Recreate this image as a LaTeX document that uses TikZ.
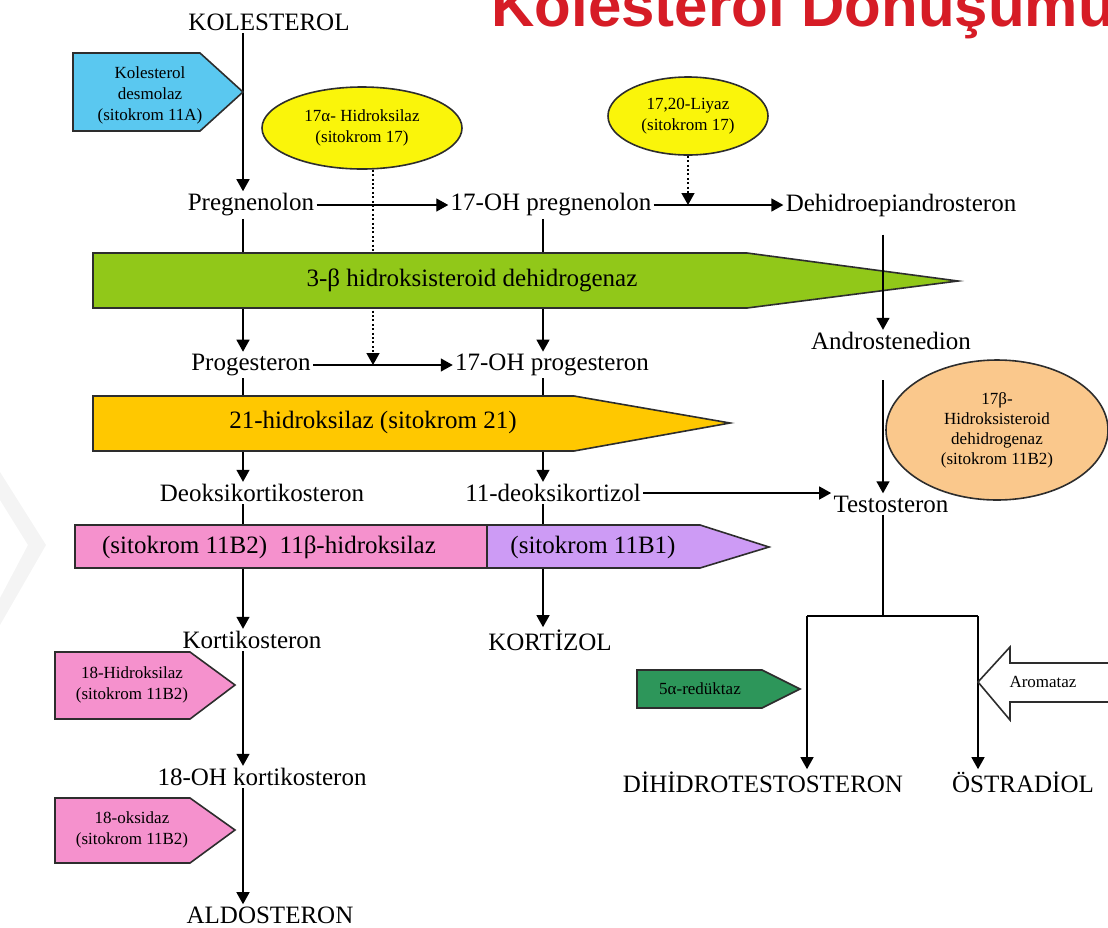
\documentclass[tikz,border=0pt]{standalone}
\usepackage{fontspec}
\setmainfont{Liberation Serif}
\newfontfamily\titlefont{Liberation Sans}
\usepackage{tikz}
\usetikzlibrary{arrows.meta,shapes.geometric,positioning}
\definecolor{titlered}{RGB}{214,28,38}
\definecolor{bluebox}{RGB}{90,200,240}
\definecolor{yellowell}{RGB}{250,245,10}
\definecolor{greenband}{RGB}{145,200,25}
\definecolor{goldband}{RGB}{255,200,0}
\definecolor{pinkband}{RGB}{245,145,205}
\definecolor{purpleband}{RGB}{205,155,245}
\definecolor{tanell}{RGB}{250,200,140}
\definecolor{greenbox}{RGB}{45,150,90}
\definecolor{edge}{RGB}{45,45,45}

\begin{document}
\begin{tikzpicture}[x=0.5pt,y=-0.5pt,
    lbl/.style={inner sep=1pt,font=\fontsize{12.5}{14}\selectfont},
    enz/.style={align=center,inner sep=0pt,font=\fontsize{8.5}{10.5}\selectfont},
    arr/.style={line width=0.7pt,-{Triangle[width=6.5pt,length=6pt]}},
    dots/.style={dash pattern=on 1pt off 1.2pt},
    shp/.style={line width=0.8pt,draw=edge}]
  \useasboundingbox (0,0) rectangle (1108,927);
  \clip (0,0) rectangle (1108,927);

  % faint mark at the left edge
  \fill[gray!9] (0,472) -- (46,545) -- (0,625) -- (0,598) -- (28,545) -- (0,500) -- cycle;

  % title
  \node[anchor=base west,inner sep=0pt,text=titlered,
        font={\titlefont\fontsize{30}{30}\selectfont\bfseries}] (title) at (491,26) {Kolesterol Dönüşümü};

  % steroids
  \node[lbl] (kol) at (269,22) {KOLESTEROL};
  \node[lbl] (preg) at (251,205) {Pregnenolon};
  \node[lbl] (ohpreg) at (551,205) {17-OH pregnenolon};
  \node[lbl] (dhea) at (901,205) {Dehidroepiandrosteron};
  \node[lbl] (andro) at (891,341) {Androstenedion};
  \node[lbl] (prog) at (251,365) {Progesteron};
  \node[lbl] (ohprog) at (552,365) {17-OH progesteron};
  \node[lbl] (deoksi) at (262,493) {Deoksikortikosteron};
  \node[lbl] (deokort) at (553,493) {11-deoksikortizol};
  \node[lbl] (testo) at (891,504) {Testosteron};
  \node[lbl] (kortiko) at (252,640) {Kortikosteron};
  \node[lbl] (kortizol) at (550,640) {KORTİZOL};
  \node[lbl] (ohkortiko) at (262,777) {18-OH kortikosteron};
  \node[lbl] (aldo) at (270,915) {ALDOSTERON};
  \node[lbl] (dht) at (763,782) {DİHİDROTESTOSTERON};
  \node[lbl] (ostra) at (1023,782) {ÖSTRADİOL};

  \coordinate (c1) at (243,0);
  \coordinate (c2) at (543,0);
  \coordinate (c3) at (883,0);
  \coordinate (d1) at (373,0);

  % side enzymes (ellipses)
  \node[ellipse,shp,fill=yellowell,minimum width=100pt,minimum height=41pt,enz] (hid17) at (362,128) {17α- Hidroksilaz\\(sitokrom 17)};
  \node[ellipse,shp,fill=yellowell,minimum width=80pt,minimum height=39pt,enz] (liyaz) at (688,116) {17,20-Liyaz\\(sitokrom 17)};

  % main pathway
  \draw[arr] (kol.south -| c1) -- (preg.north -| c1);
  \draw[arr] (preg.east) -- (ohpreg.west);
  \draw[arr] (ohpreg.east) -- (dhea.west);
  \draw[arr,dots] (hid17.south -| d1) -- (d1 |- prog.east);
  \draw[arr,dots] (liyaz.south) -- (liyaz.south |- dhea.west);
  \draw[arr] (preg.south -| c1) -- (prog.north -| c1);
  \draw[arr] (ohpreg.south -| c2) -- (ohprog.north -| c2);
  \draw[arr] (prog.east) -- (ohprog.west);
  \draw[arr] (prog.south -| c1) -- (deoksi.north -| c1);
  \draw[arr] (ohprog.south -| c2) -- (deokort.north -| c2);
  \draw[arr] (deokort.east) -- (deokort.east -| testo.west);
  \draw[arr] (deoksi.south -| c1) -- (kortiko.north -| c1);
  \draw[arr] (deokort.south -| c2) -- (kortizol.north -| c2);
  \draw[arr] (kortiko.south -| c1) -- (ohkortiko.north -| c1);
  \draw[arr] (ohkortiko.south -| c1) -- (aldo.north -| c1);

  % bands
  \draw[shp,fill=greenband] (93,253) -- (747,253) -- (958,281) -- (747,308) -- (93,308) -- cycle;
  \node[lbl] (hsd) at (472,280) {3-β hidroksisteroid dehidrogenaz};
  \draw[shp,fill=goldband] (93,396) -- (574,396) -- (730,423) -- (574,451) -- (93,451) -- cycle;
  \node[lbl] (hid21) at (373,422) {21-hidroksilaz (sitokrom 21)};
  \draw[shp,fill=pinkband] (75,525) rectangle (487,568);
  \draw[shp,fill=purpleband] (487,525) -- (700,525) -- (769,547) -- (700,568) -- (487,568) -- cycle;
  \node[lbl] (hid11b2) at (269,547) {(sitokrom 11B2)\ \ 11β-hidroksilaz};
  \node[lbl] (hid11b1) at (593,547) {(sitokrom 11B1)};

  % androgens
  \draw[arr,shorten <=8pt] (dhea.south -| c3) -- (andro.north -| c3);
  \node[ellipse,shp,fill=tanell,minimum width=111pt,minimum height=70pt,enz,
        font=\fontsize{8.5}{10}\selectfont] (hsd17) at (997,430) {17β-\\Hidroksisteroid\\dehidrogenaz\\(sitokrom 11B2)};
  \draw[arr,shorten <=14pt] (andro.south -| c3) -- (testo.north -| c3);
  \coordinate (split) at (883,616);
  \coordinate (dl) at (807,616);
  \coordinate (dr) at (978,616);
  \draw[line width=0.7pt] (testo.south -| split) -- (split);
  \draw[line width=0.7pt] (dl) -- (dr);
  \draw[arr] (dl) -- (dl |- dht.north);
  \draw[arr] (dr) -- (dr |- ostra.north);

  % enzyme tags
  \draw[shp,fill=bluebox] (73,53) -- (200,53) -- (243,92) -- (200,131) -- (73,131) -- cycle;
  \node[enz] (desmolaz) at (150,95) {Kolesterol\\desmolaz\\(sitokrom 11A)};
  \draw[shp,fill=pinkband] (55,652) -- (190,652) -- (235,685) -- (190,719) -- (55,719) -- cycle;
  \node[enz] (hid18) at (132,685) {18-Hidroksilaz\\(sitokrom 11B2)};
  \draw[shp,fill=pinkband] (55,798) -- (190,798) -- (235,830) -- (190,863) -- (55,863) -- cycle;
  \node[enz] (oks18) at (132,830) {18-oksidaz\\(sitokrom 11B2)};
  \draw[shp,fill=greenbox] (637,670) -- (762,670) -- (800,689) -- (762,708) -- (637,708) -- cycle;
  \node[enz] (red5) at (700,689) {5α-redüktaz};
  \draw[shp,fill=white] (978,682) -- (1010,647) -- (1010,663) -- (1115,663) -- (1115,702) -- (1010,702) -- (1010,720) -- cycle;
  \node[enz] (arom) at (1043,682) {Aromataz};
\end{tikzpicture}
\end{document}
